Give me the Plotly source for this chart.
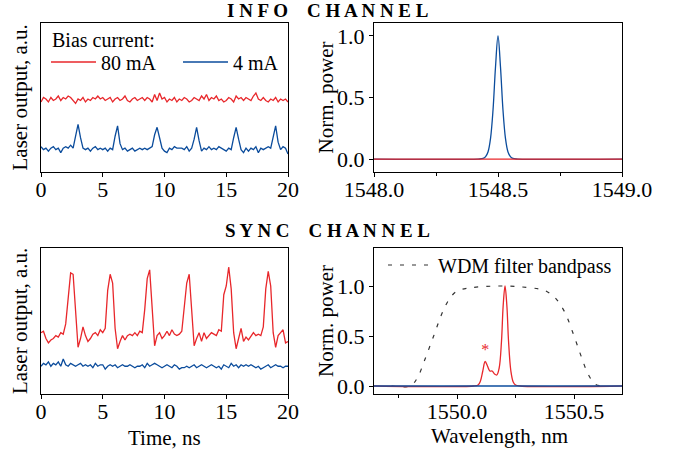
import plotly.graph_objects as go

W, H = 678, 452
FONT = "Liberation Serif"
RED = "#e8272b"
BLUE = "#0b4c9c"

# ---------------- data ----------------
time_ns = [round(0.2 * i, 1) for i in range(101)]

info_red = [
    0.47, 0.50, 0.49, 0.47, 0.50, 0.48, 0.49, 0.51, 0.48, 0.50,
    0.49, 0.51, 0.50, 0.48, 0.46, 0.49, 0.48, 0.50, 0.47, 0.49,
    0.48, 0.50, 0.49, 0.51, 0.49, 0.50, 0.48, 0.49, 0.50, 0.47,
    0.49, 0.50, 0.48, 0.49, 0.51, 0.48, 0.47, 0.49, 0.50, 0.48,
    0.49, 0.50, 0.48, 0.50, 0.49, 0.47, 0.52, 0.48, 0.53, 0.49,
    0.50, 0.47, 0.49, 0.48, 0.50, 0.47, 0.49, 0.48, 0.50, 0.49,
    0.47, 0.48, 0.50, 0.49, 0.48, 0.51, 0.49, 0.52, 0.48, 0.50,
    0.49, 0.51, 0.48, 0.49, 0.47, 0.48, 0.50, 0.49, 0.47, 0.51,
    0.49, 0.50, 0.48, 0.50, 0.49, 0.48, 0.51, 0.53, 0.49, 0.48,
    0.50, 0.48, 0.47, 0.49, 0.48, 0.50, 0.47, 0.49, 0.48, 0.49, 0.47,
]
info_blue = [
    0.17, 0.15, 0.16, 0.14, 0.16, 0.17, 0.15, 0.16, 0.13, 0.16,
    0.17, 0.16, 0.18, 0.16, 0.24, 0.32, 0.23, 0.16, 0.15, 0.16,
    0.14, 0.16, 0.17, 0.15, 0.16, 0.15, 0.16, 0.14, 0.16, 0.15,
    0.24, 0.31, 0.19, 0.15, 0.16, 0.14, 0.15, 0.16, 0.14, 0.15,
    0.16, 0.15, 0.16, 0.15, 0.16, 0.17, 0.25, 0.30, 0.23, 0.16,
    0.14, 0.13, 0.16, 0.15, 0.17, 0.16, 0.16, 0.16, 0.15, 0.17,
    0.14, 0.16, 0.22, 0.30, 0.21, 0.14, 0.16, 0.15, 0.17, 0.15,
    0.16, 0.15, 0.17, 0.16, 0.15, 0.14, 0.16, 0.15, 0.23, 0.30,
    0.22, 0.15, 0.13, 0.16, 0.14, 0.16, 0.15, 0.17, 0.13, 0.16,
    0.15, 0.16, 0.17, 0.16, 0.24, 0.31, 0.20, 0.15, 0.17, 0.16, 0.12,
]
sync_red = [
    0.42, 0.43, 0.38, 0.35, 0.37, 0.38, 0.40, 0.39, 0.42, 0.41,
    0.48, 0.68, 0.83, 0.82, 0.55, 0.32, 0.38, 0.46, 0.40, 0.36,
    0.38, 0.41, 0.42, 0.40, 0.44, 0.42, 0.45, 0.71, 0.82, 0.76,
    0.45, 0.31, 0.36, 0.40, 0.37, 0.40, 0.41, 0.40, 0.42, 0.40,
    0.43, 0.42, 0.58, 0.79, 0.85, 0.62, 0.33, 0.40, 0.42, 0.38,
    0.40, 0.43, 0.40, 0.44, 0.41, 0.40, 0.41, 0.43, 0.62, 0.76,
    0.82, 0.60, 0.33, 0.38, 0.42, 0.36, 0.42, 0.38, 0.40, 0.42,
    0.41, 0.40, 0.44, 0.43, 0.68, 0.74, 0.87, 0.72, 0.42, 0.31,
    0.38, 0.45, 0.36, 0.39, 0.37, 0.40, 0.42, 0.40, 0.41, 0.40,
    0.46, 0.72, 0.84, 0.74, 0.42, 0.32, 0.40, 0.42, 0.44, 0.35, 0.36,
]
sync_blue = [
    0.19, 0.21, 0.20, 0.22, 0.19, 0.21, 0.20, 0.22, 0.19, 0.24,
    0.20, 0.19, 0.21, 0.20, 0.19, 0.20, 0.21, 0.19, 0.20, 0.19,
    0.20, 0.18, 0.21, 0.19, 0.20, 0.20, 0.17, 0.19, 0.20, 0.19,
    0.20, 0.18, 0.19, 0.20, 0.19, 0.19, 0.20, 0.19, 0.18, 0.19,
    0.19, 0.20, 0.18, 0.21, 0.19, 0.20, 0.21, 0.20, 0.19, 0.18,
    0.19, 0.20, 0.19, 0.18, 0.20, 0.19, 0.17, 0.18, 0.18, 0.19,
    0.18, 0.19, 0.20, 0.18, 0.19, 0.20, 0.19, 0.18, 0.19, 0.20,
    0.19, 0.18, 0.19, 0.17, 0.20, 0.19, 0.18, 0.21, 0.19, 0.20,
    0.18, 0.20, 0.19, 0.20, 0.19, 0.20, 0.19, 0.18, 0.19, 0.17,
    0.18, 0.19, 0.20, 0.18, 0.19, 0.20, 0.19, 0.19, 0.18, 0.19, 0.19,
]

# info channel spectrum
info_wl = [1548.0, 1548.42, 1548.44, 1548.45, 1548.46, 1548.47, 1548.48, 1548.49,
           1548.50, 1548.51, 1548.52, 1548.53, 1548.54, 1548.55, 1548.56, 1548.58, 1549.0]
info_blue_spec = [0, 0, 0.005, 0.02, 0.06, 0.17, 0.40, 0.75,
                  1.0, 0.75, 0.40, 0.17, 0.06, 0.02, 0.005, 0, 0]
info_red_wl = [1548.0, 1549.0]
info_red_spec = [0, 0]

# sync channel spectrum
sync_wl = [1549.645, 1550.07, 1550.09, 1550.10, 1550.11, 1550.12, 1550.13, 1550.14,
           1550.15, 1550.16, 1550.17, 1550.18, 1550.19, 1550.197, 1550.205, 1550.213,
           1550.22, 1550.23, 1550.24, 1550.25, 1550.27, 1550.705]
sync_red_spec = [0, 0, 0.01, 0.05, 0.15, 0.245, 0.20, 0.15,
                 0.15, 0.12, 0.11, 0.18, 0.45, 0.80, 1.0, 0.80,
                 0.45, 0.15, 0.04, 0.01, 0, 0]
sync_blue_wl = [1549.645, 1550.705]
sync_blue_spec = [0, 0]

wdm_wl = [1549.72, 1549.80, 1549.83, 1549.86, 1549.90, 1549.94, 1549.97, 1550.00,
          1550.05, 1550.12, 1550.20, 1550.28, 1550.35, 1550.38, 1550.42, 1550.46,
          1550.50, 1550.53, 1550.56, 1550.59, 1550.62, 1550.64]
wdm_pass = [0.0, 0.0, 0.08, 0.25, 0.50, 0.75, 0.88, 0.95,
            0.98, 0.995, 1.0, 0.99, 0.97, 0.95, 0.88, 0.74,
            0.50, 0.30, 0.12, 0.02, 0.0, 0.0]

star_wl, star_y = [1550.12], [0.35]

# ---------------- figure ----------------
fig = go.Figure()
lw = 1.3

fig.add_trace(go.Scatter(x=time_ns, y=info_red, mode="lines", line=dict(color=RED, width=lw),
                         name="80 mA", xaxis="x", yaxis="y", legend="legend"))
fig.add_trace(go.Scatter(x=time_ns, y=info_blue, mode="lines", line=dict(color=BLUE, width=lw),
                         name="4 mA", xaxis="x", yaxis="y", legend="legend"))

fig.add_trace(go.Scatter(x=info_wl, y=info_blue_spec, mode="lines", line=dict(color=BLUE, width=lw, shape="spline"),
                         showlegend=False, xaxis="x2", yaxis="y2"))
fig.add_trace(go.Scatter(x=info_red_wl, y=info_red_spec, mode="lines", line=dict(color=RED, width=lw),
                         showlegend=False, xaxis="x2", yaxis="y2"))

fig.add_trace(go.Scatter(x=time_ns, y=sync_red, mode="lines", line=dict(color=RED, width=lw),
                         showlegend=False, xaxis="x3", yaxis="y3"))
fig.add_trace(go.Scatter(x=time_ns, y=sync_blue, mode="lines", line=dict(color=BLUE, width=lw),
                         showlegend=False, xaxis="x3", yaxis="y3"))

fig.add_trace(go.Scatter(x=wdm_wl, y=wdm_pass, mode="lines",
                         line=dict(color="#333333", width=1.2, dash="4px,8px", shape="spline"),
                         name="WDM filter bandpass", xaxis="x4", yaxis="y4", legend="legend2"))
fig.add_trace(go.Scatter(x=sync_wl, y=sync_red_spec, mode="lines", line=dict(color=RED, width=lw, shape="spline"),
                         showlegend=False, xaxis="x4", yaxis="y4"))
fig.add_trace(go.Scatter(x=sync_blue_wl, y=sync_blue_spec, mode="lines", line=dict(color=BLUE, width=lw),
                         showlegend=False, xaxis="x4", yaxis="y4"))
fig.add_trace(go.Scatter(x=star_wl, y=star_y, mode="text", text=["*"],
                         textfont=dict(family=FONT, size=16, color=RED),
                         showlegend=False, xaxis="x4", yaxis="y4"))


def px_x(a, b):
    return [a / W, b / W]


def px_y(top, bottom):
    return [1 - bottom / H, 1 - top / H]


tickfont = dict(family=FONT, size=22, color="black")
common = dict(showline=True, mirror=True, linecolor="black", linewidth=1, showgrid=False, automargin=False,
              zeroline=False, tickfont=tickfont, ticks="outside", ticklen=4, tickcolor="black")
xextra = dict(ticklabelstandoff=-6)
plain_y = dict(showline=True, mirror=True, linecolor="black", linewidth=1, showgrid=False, automargin=False,
               zeroline=False, showticklabels=False, ticks="")

LX = px_x(41, 288)
RX = px_x(374, 622)
TY = px_y(23, 172)
BY = px_y(248, 394)
minor = dict(ticks="outside", dtick=0.25, ticklen=3, tickcolor="black")

fig.update_layout(
    width=W, height=H, margin=dict(l=0, r=0, t=0, b=0, autoexpand=False),
    paper_bgcolor="white", plot_bgcolor="white",
    font=dict(family=FONT, color="black"),
    xaxis=dict(domain=LX, anchor="y", range=[0, 20], tickvals=[0, 5, 10, 15, 20], **common, **xextra),
    yaxis=dict(domain=TY, anchor="x", range=[0, 1], **plain_y),
    xaxis2=dict(domain=RX, anchor="y2", range=[1548.0, 1549.0], dtick=0.5, tick0=1548.0,
                tickformat=".1f", minor=minor, **common, **xextra),
    yaxis2=dict(domain=TY, anchor="x2", range=[-0.105, 1.105], dtick=0.5, tick0=0, tickformat=".1f", **common),
    xaxis3=dict(domain=LX, anchor="y3", range=[0, 20], tickvals=[0, 5, 10, 15, 20], **common, **xextra),
    yaxis3=dict(domain=BY, anchor="x3", range=[0, 1], **plain_y),
    xaxis4=dict(domain=RX, anchor="y4", range=[1549.645, 1550.705], dtick=0.5, tick0=1550.0,
                tickformat=".1f", minor=minor, **common, **xextra),
    yaxis4=dict(domain=BY, anchor="x4", range=[-0.08, 1.38], dtick=0.5, tick0=0, tickformat=".1f", **common),
    legend=dict(x=46 / W, y=1 - 62 / H, xanchor="left", yanchor="middle", orientation="h",
                font=dict(family=FONT, size=20), bgcolor="rgba(0,0,0,0)",
                itemwidth=45, entrywidth=72, entrywidthmode="pixels", tracegroupgap=0),
    legend2=dict(x=383 / W, y=1 - 265 / H, xanchor="left", yanchor="middle",
                 font=dict(family=FONT, size=20), bgcolor="rgba(0,0,0,0)", itemwidth=45),
)

ann = []
title_font = dict(family=FONT, size=21, color="black")
ann.append(dict(text="Bias current:", x=50 / W, y=1 - 40 / H, xref="paper", yref="paper",
                showarrow=False, font=dict(family=FONT, size=20, color="black"),
                xanchor="left", yanchor="middle"))
for yc in (97.5, 321):
    ann.append(dict(text="Laser output, a.u.", x=20 / W, y=1 - yc / H, xref="paper", yref="paper",
                    showarrow=False, textangle=-90, font=title_font, xanchor="center", yanchor="middle"))
    ann.append(dict(text="Norm. power", x=326 / W, y=1 - yc / H, xref="paper", yref="paper",
                    showarrow=False, textangle=-90, font=title_font, xanchor="center", yanchor="middle"))
ann.append(dict(text="Time, ns", x=164 / W, y=1 - 438 / H, xref="paper", yref="paper",
                showarrow=False, font=title_font, xanchor="center", yanchor="middle"))
ann.append(dict(text="Wavelength, nm", x=499 / W, y=1 - 436 / H, xref="paper", yref="paper",
                showarrow=False, font=title_font, xanchor="center", yanchor="middle"))
hdr_font = dict(family=FONT, size=19, color="black")
ann.append(dict(text="<b>I N F O\u00a0\u00a0\u00a0 C H A N N E L</b>", x=327 / W, y=1 - 10 / H,
                xref="paper", yref="paper", showarrow=False, font=hdr_font, xanchor="center", yanchor="middle"))
ann.append(dict(text="<b>S Y N C\u00a0\u00a0\u00a0 C H A N N E L</b>", x=327 / W, y=1 - 231 / H,
                xref="paper", yref="paper", showarrow=False, font=hdr_font, xanchor="center", yanchor="middle"))
fig.update_layout(annotations=ann)

fig.write_html("out.html")
